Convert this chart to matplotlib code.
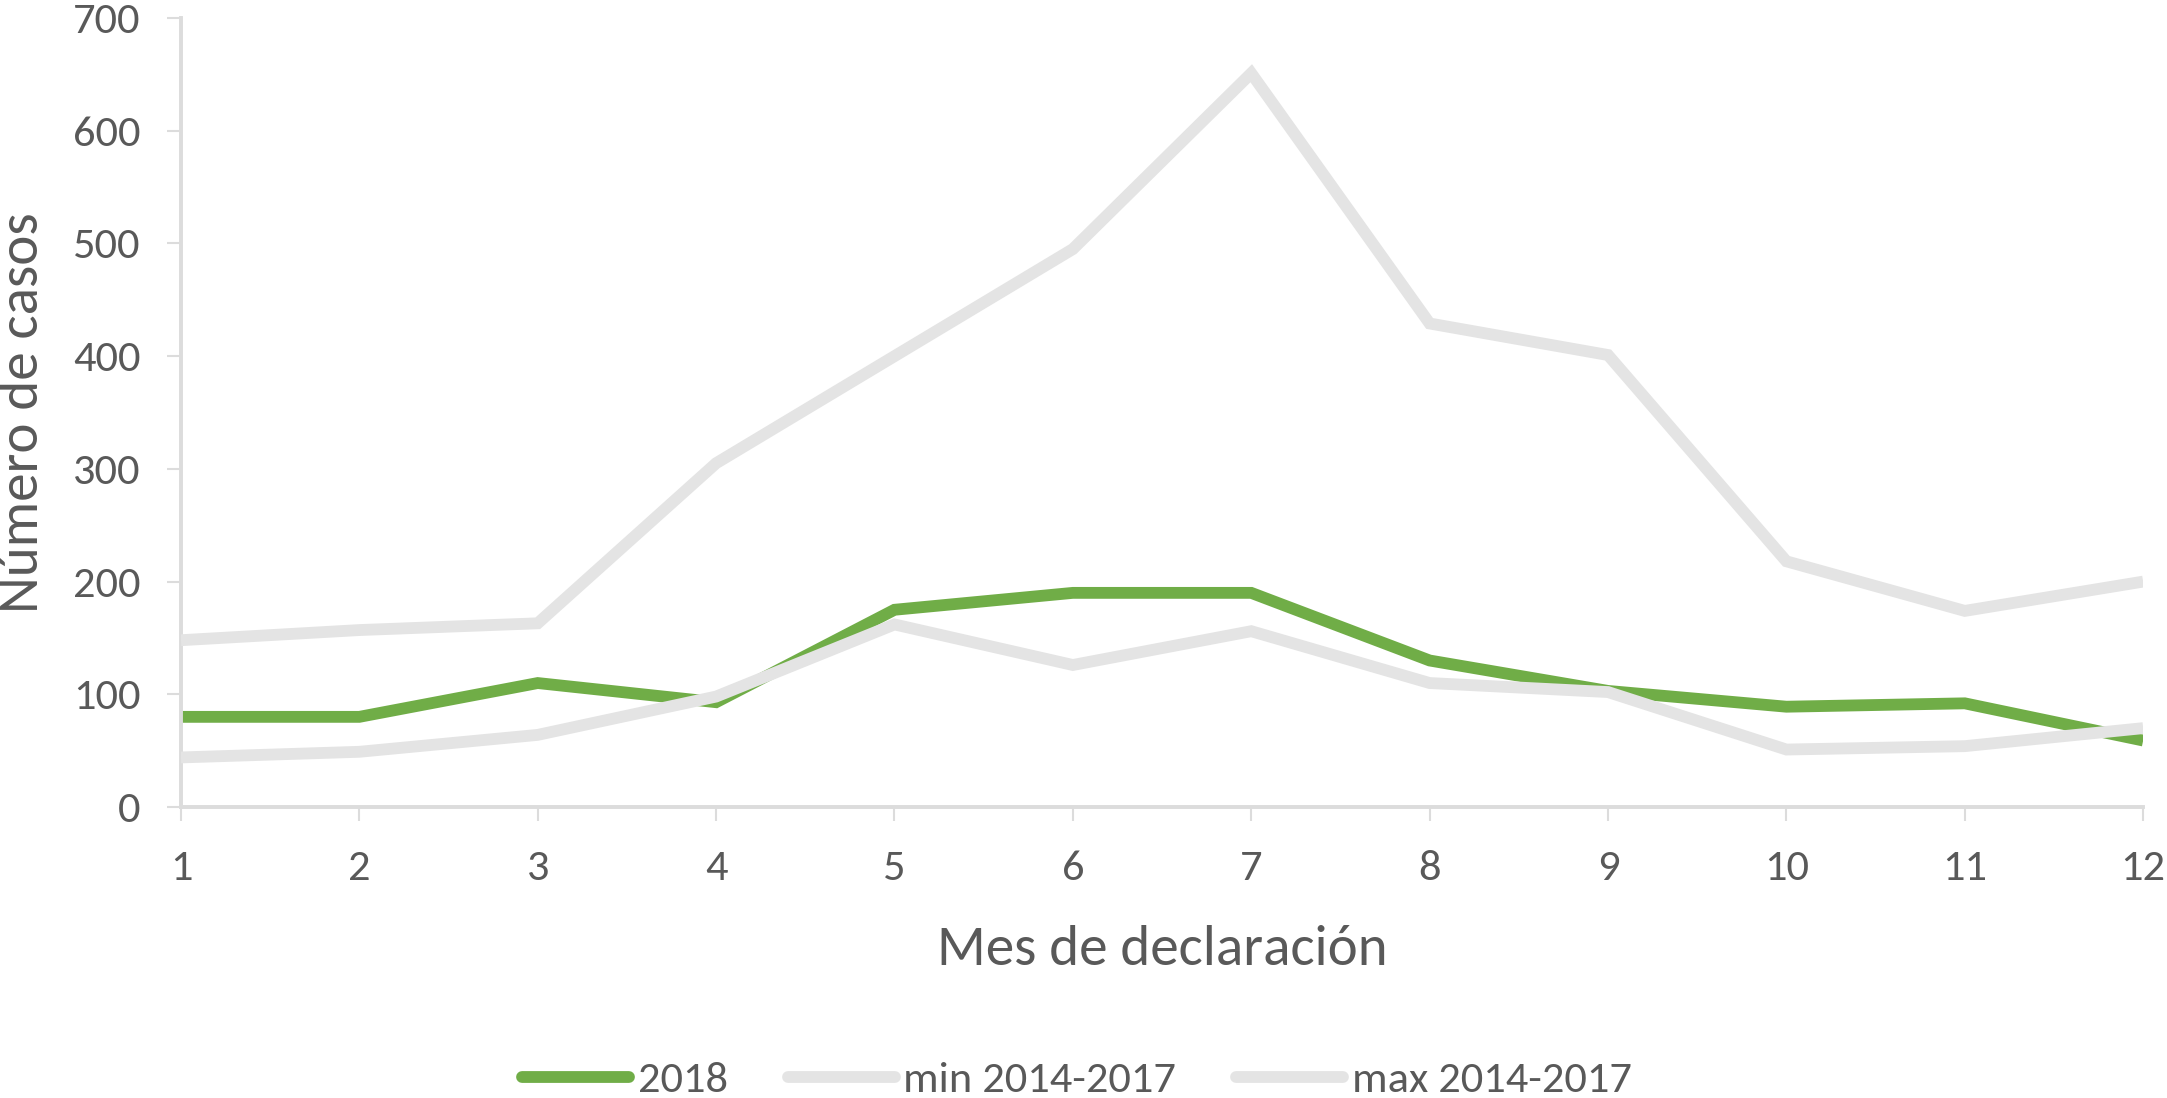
import matplotlib
matplotlib.use('Agg')
import matplotlib.pyplot as plt

# monthly cases
meses = [1, 2, 3, 4, 5, 6, 7, 8, 9, 10, 11, 12]
casos_2018 = [80, 80, 110, 93, 175, 190, 190, 130, 103, 89, 92, 59]
min_14_17 = [44, 49, 64, 98, 162, 126, 156, 110, 102, 51, 54, 70]
max_14_17 = [148, 157, 163, 305, 400, 495, 651, 429, 401, 218, 174, 200]

verde = '#70ad47'
gris = '#e4e4e4'
texto = '#595959'
eje = '#dcdcdc'

plt.rcParams['font.family'] = ['Carlito', 'DejaVu Sans']

fig = plt.figure(figsize=(21.67, 10.98), dpi=100)
ax = fig.add_axes([0.0835, 0.265, 0.9055, 0.7186])

ax.plot(meses, casos_2018, color=verde, lw=8.5, label='2018', zorder=2,
        solid_joinstyle='miter', solid_capstyle='butt')
ax.plot(meses, min_14_17, color=gris, lw=8.5, label='min 2014-2017', zorder=3,
        solid_joinstyle='miter', solid_capstyle='butt')
ax.plot(meses, max_14_17, color=gris, lw=8.5, label='max 2014-2017', zorder=3,
        solid_joinstyle='miter', solid_capstyle='butt')

ax.set_xlim(1, 12)
ax.set_ylim(0, 700)
ax.set_xticks(meses)
ax.set_yticks(range(0, 701, 100))

for s in ['top', 'right']:
    ax.spines[s].set_visible(False)
for s in ['left', 'bottom']:
    ax.spines[s].set_color(eje)
    ax.spines[s].set_linewidth(2.8)

ax.tick_params(axis='both', colors=eje, width=1.5, length=10,
               labelcolor=texto, labelsize=32)
ax.tick_params(axis='x', pad=21)
ax.tick_params(axis='y', pad=19)

ax.set_xlabel('Mes de declaración', fontsize=41, color=texto, labelpad=27)
ax.set_ylabel('Número de casos', fontsize=41, color=texto, labelpad=19)

leg = fig.legend(loc='center', bbox_to_anchor=(0.497, 0.016), ncol=3,
                 frameon=False, fontsize=32, handlelength=2.4,
                 handletextpad=0.2, columnspacing=1.35)
for t in leg.get_texts():
    t.set_color(texto)
for h in leg.get_lines():
    h.set_solid_capstyle('round')

fig.savefig('out.png', dpi=100)
